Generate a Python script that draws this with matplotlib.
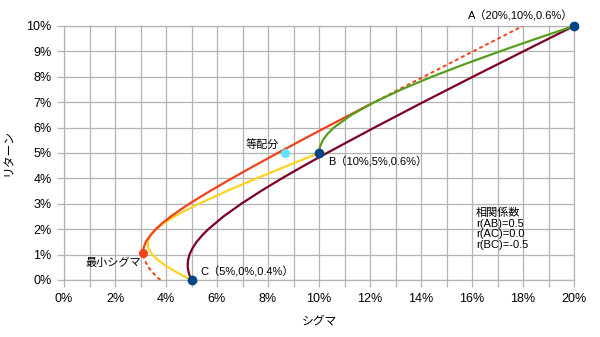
import matplotlib
matplotlib.use("Agg")
import matplotlib.pyplot as plt
from matplotlib.ticker import MultipleLocator, FuncFormatter

plt.rcParams['font.family'] = ['Liberation Sans', 'Noto Sans CJK JP']

# ── data (sigma %, return %) ────────────────────────────────────────
# A-C combination, r(AC)=0.0
ac_ret = [0, 0.25, 0.5, 0.75, 1, 1.25, 1.5, 1.75, 2, 2.5, 3, 3.5, 4, 4.5,
          5, 6, 7, 8, 9, 10]
ac_sig = [5.00, 4.90, 4.85, 4.86, 4.92, 5.04, 5.20, 5.41, 5.66, 6.25,
          6.95, 7.72, 8.54, 9.41, 10.31, 12.17, 14.08, 16.03, 18.01, 20.00]

# B-C combination, r(BC)=-0.5
bc_ret = [0, 0.125, 0.25, 0.375, 0.5, 0.625, 0.75, 0.875, 1, 1.25, 1.5,
          1.75, 2, 2.25, 2.5, 2.75, 3, 3.5, 4, 4.5, 5]
bc_sig = [5.00, 4.75, 4.52, 4.30, 4.09, 3.90, 3.73, 3.59, 3.46, 3.31,
          3.28, 3.38, 3.61, 3.93, 4.33, 4.79, 5.29, 6.38, 7.55, 8.76, 10.00]

# A-B combination, r(AB)=0.5
ab_ret = [5, 5.1, 5.25, 5.5, 5.75, 6, 6.5, 7, 7.5, 8, 8.5, 9, 9.5, 10]
ab_sig = [10.00, 10.01, 10.04, 10.15, 10.33, 10.58, 11.27, 12.17, 13.23,
          14.42, 15.72, 17.09, 18.52, 20.00]

# three-asset frontier: lower dashed, solid, upper dashed
fr_low_ret = [0, 0.125, 0.25, 0.375, 0.5, 0.75, 0.9, 1.08]
fr_low_sig = [3.78, 3.64, 3.52, 3.41, 3.31, 3.18, 3.13, 3.10]
fr_mid_ret = [1.08, 1.25, 1.375, 1.5, 1.75, 2, 2.25, 2.5, 2.75, 3, 3.5, 4,
              4.5, 5, 5.5, 6, 6.5, 6.92]
fr_mid_sig = [3.10, 3.12, 3.16, 3.21, 3.38, 3.60, 3.87, 4.19, 4.54, 4.91,
              5.72, 6.58, 7.47, 8.38, 9.31, 10.25, 11.21, 12.01]
fr_up_ret = [6.92, 7.5, 8, 8.5, 9, 9.5, 10]
fr_up_sig = [12.01, 13.13, 14.10, 15.07, 16.04, 17.02, 17.99]

asset_names = ["A", "B", "C"]
asset_sig = [20, 10, 5]
asset_ret = [10, 5, 0]
asset_labels = ["A（20%,10%,0.6%）", "B（10%,5%,0.6%）", "C（5%,0%,0.4%）"]

min_sig, min_ret = 3.10, 1.08
eq_sig, eq_ret = 8.66, 5.0

corr_lines = ["相関係数", "r(AB)=0.5", "r(AC)=0.0", "r(BC)=-0.5"]

RED = "#f5401a"
YELLOW = "#ffd320"
GREEN = "#579d1c"
MAROON = "#7e0021"
BLUE = "#004586"
CYAN = "#5fe3f6"
GRID = "#b3b3b3"

fig = plt.figure(figsize=(6, 3.37), dpi=100)
ax = fig.add_axes([64 / 600, 57 / 337, 510 / 600, 254 / 337])

ax.plot(bc_sig, bc_ret, color=YELLOW, lw=1.6, zorder=3)
ax.plot(ac_sig, ac_ret, color=MAROON, lw=1.6, zorder=3)
ax.plot(fr_mid_sig, fr_mid_ret, color=RED, lw=1.6, zorder=4)
ax.plot(fr_low_sig, fr_low_ret, color=RED, lw=1.4, ls=(0, (2, 1.5)), zorder=4)
ax.plot(fr_up_sig, fr_up_ret, color=RED, lw=1.4, ls=(0, (2, 1.5)), zorder=4)
ax.plot(ab_sig, ab_ret, color=GREEN, lw=1.6, zorder=5)

ax.plot(asset_sig, asset_ret, "o", color=BLUE, ms=6, clip_on=False, zorder=6)
ax.plot([min_sig], [min_ret], "o", color=RED, ms=5.5, clip_on=False, zorder=6)
ax.plot([eq_sig], [eq_ret], "o", color=CYAN, ms=5.5, zorder=6)

ax.set_xlim(0, 20)
ax.set_ylim(0, 10)
ax.xaxis.set_major_locator(MultipleLocator(1))
ax.yaxis.set_major_locator(MultipleLocator(1))
ax.xaxis.set_major_formatter(FuncFormatter(lambda v, p: f"{v:.0f}%" if round(v) % 2 == 0 else ""))
ax.yaxis.set_major_formatter(FuncFormatter(lambda v, p: f"{v:.0f}%"))
ax.grid(True, color=GRID, lw=0.9)
ax.set_axisbelow(True)
for s in ax.spines.values():
    s.set_color(GRID)
    s.set_linewidth(0.9)
ax.tick_params(length=5, width=0.9, color=GRID, labelsize=9, pad=4)

ax.set_xlabel("シグマ", fontsize=8.5, labelpad=8)
ax.set_ylabel("リターン", fontsize=8.5, labelpad=8)

# annotations
ax.text(17.9, 10.38, asset_labels[0], fontsize=8, ha="center", va="center")
ax.text(10.35, 4.65, asset_labels[1], fontsize=8, ha="left", va="center")
ax.text(5.33, 0.31, asset_labels[2], fontsize=8, ha="left", va="center")
ax.text(7.14, 5.35, "等配分", fontsize=8, ha="left", va="center")
ax.text(0.86, 0.67, "最小シグマ", fontsize=8, ha="left", va="center")
for i, line in enumerate(corr_lines):
    ax.text(16.16, 2.64 - i * 0.42, line, fontsize=8, ha="left", va="center")

fig.savefig("out.png", dpi=100)
